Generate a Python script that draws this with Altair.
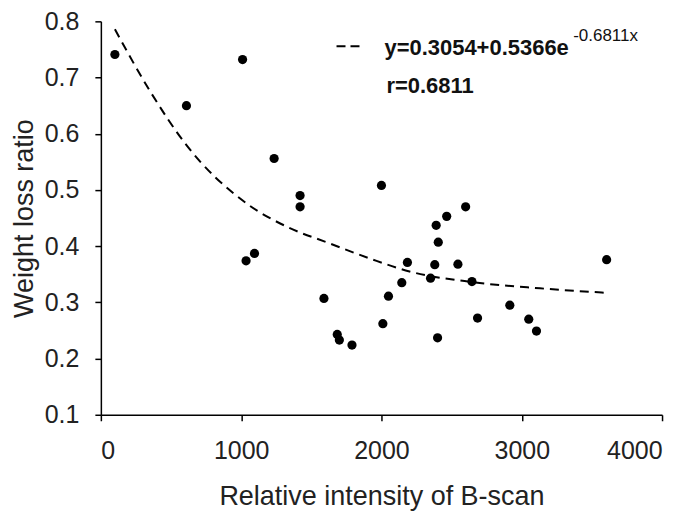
import altair as alt
import pandas as pd

# scatter data
x_vals = [100, 1010, 610, 1235, 2000, 1420, 1420, 1035, 1095, 1590, 1685, 1700, 1790,
          2010, 2050, 2145, 2185, 2600, 2465, 2390, 2405, 2380, 2545, 2350, 2645, 3605,
          2915, 2685, 3050, 3105, 2400]
y_vals = [0.741, 0.732, 0.650, 0.556, 0.508, 0.490, 0.470, 0.374, 0.387, 0.307, 0.243,
          0.233, 0.224, 0.262, 0.311, 0.335, 0.371, 0.470, 0.453, 0.437, 0.407, 0.367,
          0.368, 0.343, 0.337, 0.376, 0.295, 0.272, 0.270, 0.249, 0.237]

# fitted curve
curve_x = [100, 350, 600, 1050, 1340, 1630, 1940, 2200, 2650, 3130, 3600]
curve_y = [0.786, 0.676, 0.583, 0.474, 0.433, 0.405, 0.376, 0.355, 0.336, 0.325, 0.317]

x_ticks = [0, 1000, 2000, 3000, 4000]
y_ticks = [0.1, 0.2, 0.3, 0.4, 0.5, 0.6, 0.7, 0.8]

eq_main = ["y=0.3054+0.5366e"]
eq_exp = ["-0.6811x"]
r_text = ["r=0.6811"]

pts = pd.DataFrame({"x": x_vals, "y": y_vals})
crv = pd.DataFrame({"x": curve_x, "y": curve_y})

FONT = "Liberation Sans"

xscale = alt.Scale(domain=[0, 4000], nice=False, zero=False)
yscale = alt.Scale(domain=[0.1, 0.8], nice=False, zero=False)

xaxis = alt.Axis(values=x_ticks, format="d", title="Relative intensity of B-scan",
                 labelPadding=18, titlePadding=20)
yaxis = alt.Axis(values=y_ticks, format=".1f", title="Weight loss ratio",
                 labelPadding=16, titlePadding=6)

points = alt.Chart(pts).mark_circle(size=85, color="black", opacity=1).encode(
    x=alt.X("x:Q", scale=xscale, axis=xaxis),
    y=alt.Y("y:Q", scale=yscale, axis=yaxis),
)

curve = alt.Chart(crv).mark_line(color="black", strokeWidth=2, strokeDash=[9, 6],
                                 interpolate="monotone").encode(
    x=alt.X("x:Q", scale=xscale),
    y=alt.Y("y:Q", scale=yscale),
)

legend_line = alt.Chart(pd.DataFrame({"a": [0]})).mark_rule(
    color="black", strokeWidth=2, strokeDash=[9, 5]).encode(
    x=alt.value(236), x2=alt.value(260), y=alt.value(25))

t_main = alt.Chart(pd.DataFrame({"t": eq_main})).mark_text(
    font=FONT, fontSize=22, fontWeight="bold", align="left", baseline="alphabetic",
    color="#111").encode(x=alt.value(284), y=alt.value(34), text="t:N")

t_exp = alt.Chart(pd.DataFrame({"t": eq_exp})).mark_text(
    font=FONT, fontSize=17, align="left", baseline="alphabetic",
    color="#111").encode(x=alt.value(473), y=alt.value(20), text="t:N")

t_r = alt.Chart(pd.DataFrame({"t": r_text})).mark_text(
    font=FONT, fontSize=22, fontWeight="bold", align="left", baseline="alphabetic",
    color="#111").encode(x=alt.value(286), y=alt.value(72), text="t:N")

chart = alt.layer(curve, points, legend_line, t_main, t_exp, t_r).properties(
    width=562, height=394,
    autosize=alt.AutoSizeParams(type="none"),
    padding={"left": 93, "top": 13, "right": 30, "bottom": 96},
).configure_view(stroke=None).configure_axis(
    grid=False, domainColor="black", domainWidth=1.5, tickColor="black",
    tickWidth=1.5, tickSize=6, labelFont=FONT, labelFontSize=25, labelColor="#222",
    titleFont=FONT, titleFontSize=27, titleFontWeight="normal", titleColor="#222",
)

chart.save("out.html", embed_options={"renderer": "svg", "actions": False})
